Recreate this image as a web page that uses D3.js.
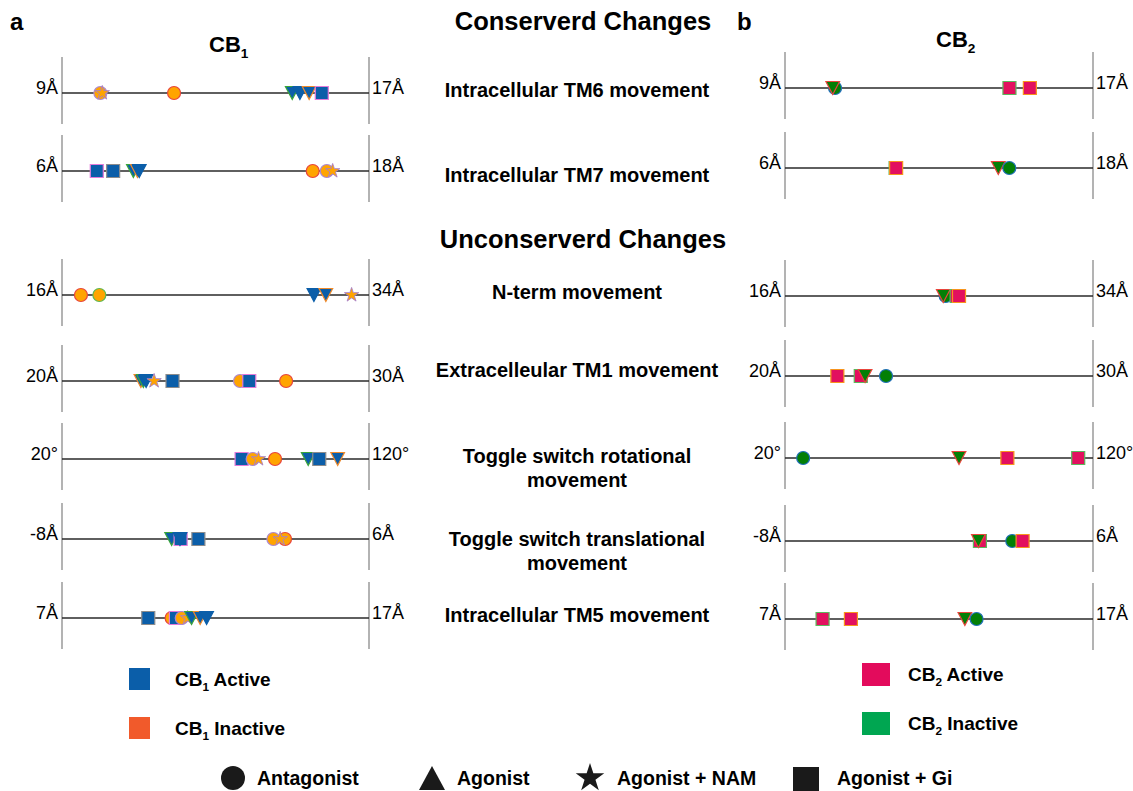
<!DOCTYPE html>
<html>
<head>
<meta charset="utf-8">
<script src="https://cdn.jsdelivr.net/npm/d3@7"></script>
<style>
  html, body { margin: 0; padding: 0; background: #fff; }
  svg { display: block; font-family: "Liberation Sans", Arial, Helvetica, sans-serif; }
</style>
</head>
<body>
<svg id="chart" width="1133" height="791"></svg>
<script>
// ---- data -------------------------------------------------------------
const rowLabels = [
  ["Intracellular TM6 movement"],
  ["Intracellular TM7 movement"],
  ["N-term movement"],
  ["Extracelleular TM1 movement"],
  ["Toggle switch rotational", "movement"],
  ["Toggle switch translational", "movement"],
  ["Intracellular TM5 movement"]
];
const rowRanges = [[9, 17], [6, 18], [16, 34], [20, 30], [20, 120], [-8, 6], [7, 17]];
const rowUnits  = ["Å", "Å", "Å", "Å", "°", "Å", "Å"];

const ligandTypes = ["Antagonist", "Agonist", "Agonist + NAM", "Agonist + Gi"];

// each marker: [value, ligand type, structure id]
const cb1Rows = [
  [[10.0, "Antagonist", "A2"], [10.05, "Agonist + NAM", "N1"], [11.92, "Antagonist", "A1"],
   [15.0, "Agonist", "G1"], [15.2, "Agonist", "G2"], [15.44, "Agonist", "G3"], [15.77, "Agonist + Gi", "Q1"]],
  [[7.36, "Agonist + Gi", "Q1"], [8.0, "Agonist + Gi", "Q2"], [8.79, "Agonist", "G1"], [8.95, "Agonist", "G3"],
   [9.02, "Agonist", "G2"], [15.8, "Antagonist", "A1"], [16.35, "Antagonist", "A2"], [16.58, "Agonist + NAM", "N1"]],
  [[17.11, "Antagonist", "A1"], [18.19, "Antagonist", "A3"], [30.77, "Agonist", "G2"], [31.47, "Agonist", "G3"],
   [32.98, "Agonist + NAM", "N1"]],
  [[22.57, "Agonist", "G3"], [22.65, "Agonist", "G1"], [22.74, "Agonist", "G2"], [23.0, "Agonist + NAM", "N1"],
   [23.6, "Agonist + Gi", "Q2"], [25.8, "Antagonist", "A2"], [26.1, "Agonist + Gi", "Q1"], [27.3, "Antagonist", "A1"]],
  [[78.5, "Agonist + Gi", "Q1"], [82.1, "Antagonist", "A2"], [84.0, "Agonist + NAM", "N1"], [89.4, "Antagonist", "A1"],
   [100.2, "Agonist", "G1"], [103.8, "Agonist + Gi", "Q2"], [109.8, "Agonist", "G3"]],
  [[-3.0, "Agonist", "G1"], [-2.59, "Agonist + Gi", "Q1"], [-2.62, "Agonist", "G2"], [-1.78, "Agonist + Gi", "Q2"],
   [1.64, "Antagonist", "A2"], [2.17, "Antagonist", "A1"], [1.95, "Agonist + NAM", "N1"]],
  [[9.81, "Agonist + Gi", "Q2"], [10.57, "Antagonist", "A1"], [10.71, "Agonist + Gi", "Q1"], [10.9, "Antagonist", "A2"],
   [11.09, "Agonist + NAM", "N1"], [11.22, "Agonist", "G1"], [11.5, "Agonist", "G3"], [11.71, "Agonist", "G2"]]
];

const cb2Rows = [
  [[10.3, "Antagonist", "A1"], [10.24, "Agonist", "G1"], [14.83, "Agonist + Gi", "Q1"], [15.36, "Agonist + Gi", "Q2"]],
  [[10.31, "Agonist + Gi", "Q1"], [10.33, "Agonist + Gi", "Q2"], [14.31, "Agonist", "G1"], [14.74, "Antagonist", "A1"]],
  [[25.39, "Antagonist", "A1"], [25.25, "Agonist", "G1"], [26.03, "Agonist + Gi", "Q1"], [26.17, "Agonist + Gi", "Q2"]],
  [[21.7, "Agonist + Gi", "Q2"], [22.46, "Agonist + Gi", "Q1"], [22.6, "Agonist", "G1"], [23.28, "Antagonist", "A1"]],
  [[25.9, "Antagonist", "A1"], [76.5, "Agonist", "G1"], [92.2, "Agonist + Gi", "Q2"], [115.2, "Agonist + Gi", "Q1"]],
  [[0.86, "Agonist + Gi", "Q1"], [0.79, "Agonist", "G1"], [2.33, "Antagonist", "A1"], [2.8, "Agonist + Gi", "Q2"]],
  [[8.22, "Agonist + Gi", "Q1"], [9.14, "Agonist + Gi", "Q2"], [12.84, "Agonist", "G1"], [13.22, "Antagonist", "A1"]]
];

// receptor state implied by each ligand type
const cb1State = { "Antagonist": "inactive", "Agonist + NAM": "inactive", "Agonist": "active", "Agonist + Gi": "active" };
const cb2State = { "Antagonist": "inactive", "Agonist": "inactive", "Agonist + Gi": "active" };

const legendStates = ["Active", "Inactive"];

// ---- styles -------------------------------------------------------------
const cb1Fill = { active: "#0b5ea9", inactive: "#ffa400" };
const cb2Fill = { active: "#e2105f", inactive: "#037f06" };
const cb1Legend = { Active: "#0b5ea9", Inactive: "#f15a2b" };
const cb2Legend = { Active: "#e30b5c", Inactive: "#00a651" };

const cb1Outline = d3.scaleOrdinal()
  .domain(["A1", "A2", "A3", "G1", "G2", "G3", "N1", "Q1", "Q2"])
  .range(["#e8453c", "#ad87cf", "#5fb84f", "#3aa53a", "#0b5ea9", "#f08a2a", "#a77fc9", "#e27bd9", "#8c8c8c"]);
const cb2Outline = d3.scaleOrdinal()
  .domain(["A1", "G1", "Q1", "Q2"])
  .range(["#1f6fb8", "#e8453c", "#5cb85c", "#f7941d"]);

// ---- layout -------------------------------------------------------------
const svg = d3.select("#chart");

const panelA = { x0: 62, x1: 369, rowsY: [93, 171, 295, 381, 459, 539, 618] };
const panelB = { x0: 785, x1: 1093, rowsY: [88, 168, 296, 376, 458, 541, 619] };
const labelCenterX = 577;
const labelY = [[97], [182], [299], [377], [463, 487], [546, 570], [622]];

function markerPath(type, s) {
  if (type === "Antagonist") return d3.symbol(d3.symbolCircle, Math.PI * (s / 2) * (s / 2))();
  if (type === "Agonist + NAM") return d3.symbol(d3.symbolStar, (s * 0.58) * (s * 0.58) / 0.8908)();
  if (type === "Agonist + Gi") return `M${-s / 2},${-s / 2}h${s}v${s}h${-s}Z`;
  // downward triangle
  const w = s * 1.05, h = s;
  return `M${-w / 2},${-h / 2}L${w / 2},${-h / 2}L0,${h / 2}Z`;
}

function drawPanel(panel, rows, stateMap, fills, outline) {
  const g = svg.append("g");
  rows.forEach((markers, i) => {
    const y = panel.rowsY[i];
    const [lo, hi] = rowRanges[i];
    const x = d3.scaleLinear().domain([lo, hi]).range([panel.x0, panel.x1]);
    const row = g.append("g");

    // end bars
    row.selectAll("line.bar").data(x.range()).join("line")
      .attr("class", "bar")
      .attr("x1", d => d).attr("x2", d => d)
      .attr("y1", y - 36).attr("y2", y + 31)
      .attr("stroke", "#8a8a8a").attr("stroke-width", 1.3);

    // baseline
    row.append("line")
      .attr("x1", x(lo)).attr("x2", x(hi))
      .attr("y1", y).attr("y2", y)
      .attr("stroke", "#2a2a2a").attr("stroke-width", 1.6);

    // range labels
    row.append("text")
      .attr("x", x(lo) - 4).attr("y", y + 0.5)
      .attr("text-anchor", "end")
      .attr("font-size", 18)
      .text(lo + rowUnits[i]);
    row.append("text")
      .attr("x", x(hi) + 3).attr("y", y + 0.5)
      .attr("font-size", 18)
      .text(hi + rowUnits[i]);

    // markers
    row.selectAll("path.mk").data(markers).join("path")
      .attr("class", "mk")
      .attr("transform", d => `translate(${x(d[0])},${y})`)
      .attr("d", d => markerPath(d[1], 13))
      .attr("fill", d => fills[stateMap[d[1]]])
      .attr("stroke", d => outline(d[2]))
      .attr("stroke-width", d => d[1] === "Agonist + NAM" ? 0.9 : 1.2);
  });
}

drawPanel(panelA, cb1Rows, cb1State, cb1Fill, cb1Outline);
drawPanel(panelB, cb2Rows, cb2State, cb2Fill, cb2Outline);

// ---- titles ---------------------------------------------------------------
svg.append("text").attr("x", 10).attr("y", 30).attr("font-size", 24).attr("font-weight", "bold").text("a");
svg.append("text").attr("x", 737).attr("y", 30).attr("font-size", 24).attr("font-weight", "bold").text("b");

svg.append("text").attr("x", 583).attr("y", 30).attr("text-anchor", "middle")
  .attr("font-size", 25.5).attr("font-weight", "bold").text("Conserverd Changes");
svg.append("text").attr("x", 583).attr("y", 248).attr("text-anchor", "middle")
  .attr("font-size", 25.5).attr("font-weight", "bold").text("Unconserverd Changes");

function subLabel(sel, x, y, main, sub, size, anchor) {
  const t = sel.append("text").attr("x", x).attr("y", y)
    .attr("font-size", size).attr("font-weight", "bold")
    .attr("text-anchor", anchor || "start");
  t.append("tspan").text(main);
  t.append("tspan").attr("font-size", size * 0.62).attr("dy", size * 0.25).text(sub);
  return t;
}
subLabel(svg, 209, 52, "CB", "1", 22);
subLabel(svg, 936, 47, "CB", "2", 22);

// row descriptions
rowLabels.forEach((lines, i) => {
  lines.forEach((line, j) => {
    svg.append("text")
      .attr("x", labelCenterX).attr("y", labelY[i][j])
      .attr("text-anchor", "middle")
      .attr("font-size", 20).attr("font-weight", "bold")
      .text(line);
  });
});

// ---- state legends -------------------------------------------------------
legendStates.forEach((s, i) => {
  svg.append("rect").attr("x", 129).attr("y", 668 + i * 49).attr("width", 21).attr("height", 22)
    .attr("fill", cb1Legend[s]);
  const t = subLabel(svg, 175, 686 + i * 49, "CB", "1", 19);
  t.append("tspan").attr("dy", -19 * 0.25).text(" " + s);

  svg.append("rect").attr("x", 862).attr("y", 663 + i * 49).attr("width", 28).attr("height", 23)
    .attr("fill", cb2Legend[s]);
  const t2 = subLabel(svg, 908, 681 + i * 49, "CB", "2", 19);
  t2.append("tspan").attr("dy", -19 * 0.25).text(" " + s);
});

// ---- ligand-type legend ----------------------------------------------------
const legendItems = [
  { type: ligandTypes[0], cx: 233, tx: 257 },
  { type: ligandTypes[1], cx: 432, tx: 457 },
  { type: ligandTypes[2], cx: 590, tx: 617 },
  { type: ligandTypes[3], cx: 806, tx: 837 }
];
legendItems.forEach(item => {
  let d;
  if (item.type === "Antagonist") d = d3.symbol(d3.symbolCircle, Math.PI * 12 * 12)();
  else if (item.type === "Agonist") d = "M-13,12L13,12L0,-12Z";
  else if (item.type === "Agonist + NAM") d = d3.symbol(d3.symbolStar, 15 * 15 / 0.8908)();
  else d = "M-13,-11h26v24h-26Z";
  svg.append("path").attr("transform", `translate(${item.cx},${778})`).attr("d", d).attr("fill", "#1a1a1a");
  svg.append("text").attr("x", item.tx).attr("y", 785)
    .attr("font-size", 19.5).attr("font-weight", "bold").text(item.type);
});
</script>
</body>
</html>
